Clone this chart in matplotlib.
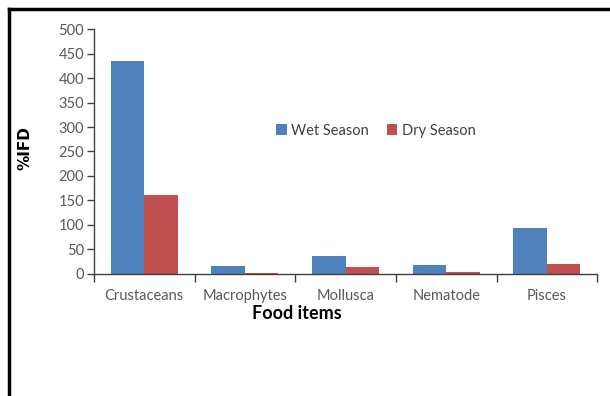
import numpy as np
import matplotlib
matplotlib.use("Agg")
from matplotlib import pyplot as plt
from matplotlib.lines import Line2D

# food items and index of food dominance per season
food_items = ["Crustaceans", "Macrophytes", "Mollusca", "Nematode", "Pisces"]
wet_season = [436, 16, 37, 17, 94]
dry_season = [160, 2, 14, 4, 20]
y_ticks = list(range(0, 501, 50))

font = "Lato"

fig = plt.figure(figsize=(6.10, 3.96), dpi=100)
ax = fig.add_axes([0.154, 0.309, 0.825, 0.617])

x = np.arange(len(food_items))
w = 0.333
ax.bar(x - w / 2, wet_season, w, color="#4F81BD", label="Wet Season")
ax.bar(x + w / 2, dry_season, w, color="#C0504D", label="Dry Season")

ax.set_xlim(-0.5, len(food_items) - 0.5)
ax.set_ylim(0, 500)
ax.set_yticks(y_ticks)
ax.set_yticklabels([str(t) for t in y_ticks], fontfamily=font, fontsize=10.5, color="#595959")

# category labels in the middle, tick marks on the boundaries
ax.set_xticks(x)
ax.set_xticklabels(food_items, fontfamily=font, fontsize=10.5, color="#595959")
ax.tick_params(axis="x", length=0, pad=11)
ax.set_xticks(np.arange(-0.5, len(food_items)), minor=True)
ax.tick_params(axis="x", which="minor", length=6, direction="out", color="#404040", width=1)
ax.tick_params(axis="y", length=5, direction="out", color="#404040", width=1, pad=2)

for s in ["top", "right"]:
    ax.spines[s].set_visible(False)
for s in ["left", "bottom"]:
    ax.spines[s].set_color("#404040")
    ax.spines[s].set_linewidth(1)

ax.set_xlabel("Food items", fontfamily=font, fontweight="bold", fontsize=13, labelpad=-2)
ax.xaxis.set_label_coords(0.404, -0.13)
fig.text(0.041, 0.626, "%IFD", rotation=90, ha="center", va="center",
         fontweight="bold", fontsize=11)

leg = ax.legend(loc="center", bbox_to_anchor=(0.56, 0.585), ncol=2, frameon=False,
                handlelength=0.75, handleheight=0.75, handletextpad=0.3, columnspacing=1.2,
                prop={"family": font, "size": 10.5})
for t in leg.get_texts():
    t.set_color("#404040")

# border lines at the top and left of the figure
fig.add_artist(Line2D([0.0148, 1.0], [0.978, 0.978], color="black", lw=2.5, transform=fig.transFigure))
fig.add_artist(Line2D([0.0148, 0.0148], [0.0, 0.978], color="black", lw=2.5, transform=fig.transFigure))

fig.savefig("out.png", dpi=100)
